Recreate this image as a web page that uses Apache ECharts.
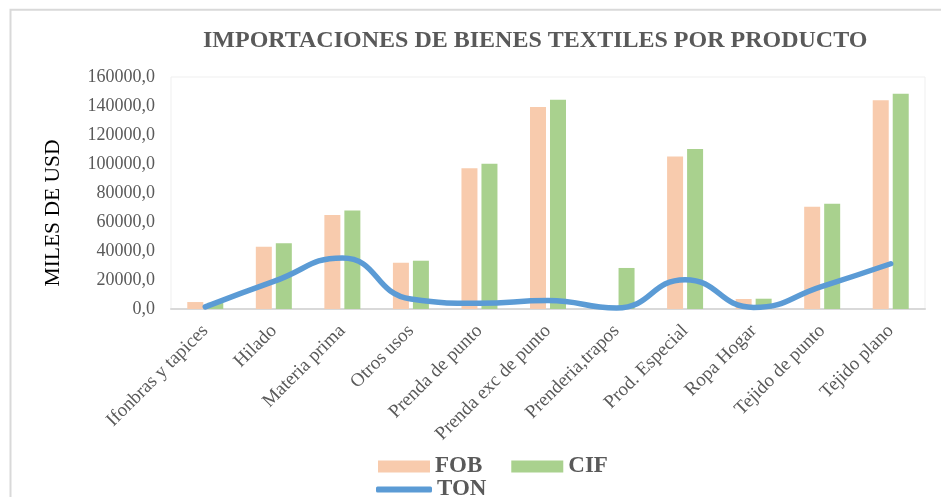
<!DOCTYPE html>
<html>
<head>
<meta charset="utf-8">
<script src="https://cdn.jsdelivr.net/npm/echarts@6/dist/echarts.min.js"></script>
<style>
  html, body { margin: 0; padding: 0; background: #fff; }
  #chart { width: 941px; height: 497px; }
</style>
</head>
<body>
<div id="chart"></div>
<script>
// categorias y valores
const categorias = ['Ifonbras y tapices', 'Hilado', 'Materia prima', 'Otros usos', 'Prenda de punto',
  'Prenda exc de punto', 'Prenderia,trapos', 'Prod. Especial', 'Ropa Hogar', 'Tejido de punto', 'Tejido plano'];
const fob = [4800, 43000, 64800, 31900, 97000, 139300, 0, 105200, 6900, 70500, 143900];
const cif = [4300, 45300, 68000, 33300, 100200, 144300, 28300, 110300, 7100, 72600, 148500];
const ton = [1500, 19000, 35200, 6900, 3900, 5900, 700, 20200, 1100, 15600, 31200];
const ticksY = [0, 20000, 40000, 60000, 80000, 100000, 120000, 140000, 160000];

const fuente = '"Liberation Serif", "Times New Roman", serif';
const gris = '#595959';

const chart = echarts.init(document.getElementById('chart'));

const option = {
  animation: false,
  backgroundColor: '#fff',
  title: {
    text: 'IMPORTACIONES DE BIENES TEXTILES POR PRODUCTO',
    left: 198,
    top: 24,
    textStyle: { fontFamily: fuente, fontSize: 24, fontWeight: 'bold', color: gris }
  },
  graphic: [
    {
      // marco exterior del grafico
      type: 'rect',
      shape: { x: 10.5, y: 9.8, width: 1000, height: 1000 },
      style: { fill: 'none', stroke: '#d9d9d9', lineWidth: 2 },
      silent: true
    },
    {
      // titulo del eje vertical
      type: 'text',
      x: 53,
      y: 213,
      rotation: Math.PI / 2,
      style: {
        text: 'MILES DE USD',
        fontFamily: fuente,
        fontSize: 21.5,
        fill: '#000',
        textAlign: 'center',
        textVerticalAlign: 'middle'
      },
      silent: true
    }
  ],
  legend: [
    {
      data: ['FOB', 'CIF'],
      left: 373,
      top: 450,
      itemWidth: 52,
      itemHeight: 12,
      itemGap: 29,
      icon: 'rect',
      textStyle: { fontFamily: fuente, fontSize: 23, fontWeight: 'bold', color: gris }
    },
    {
      data: [{ name: 'TON', icon: 'roundRect' }],
      left: 371,
      top: 473,
      itemWidth: 56,
      itemHeight: 6,
      textStyle: { fontFamily: fuente, fontSize: 23, fontWeight: 'bold', color: gris }
    }
  ],
  grid: {
    left: 171,
    right: 16,
    top: 77,
    bottom: 188,
    show: true,
    borderColor: '#efefef',
    borderWidth: 1
  },
  xAxis: {
    type: 'category',
    data: categorias,
    axisTick: { show: false },
    axisLine: { lineStyle: { color: '#d9d9d9', width: 2 } },
    axisLabel: {
      interval: 0,
      rotate: 45,
      margin: 19,
      fontFamily: fuente,
      fontSize: 19,
      color: gris
    }
  },
  yAxis: {
    type: 'value',
    min: ticksY[0],
    max: ticksY[ticksY.length - 1],
    interval: 20000,
    splitLine: { show: false },
    axisLine: { show: false },
    axisTick: { show: false },
    axisLabel: {
      margin: 16,
      fontFamily: fuente,
      fontSize: 18,
      color: gris,
      formatter: v => v.toFixed(1).replace('.', ',')
    }
  },
  series: [
    {
      name: 'FOB',
      type: 'bar',
      data: fob,
      barWidth: 16,
      barGap: '25%',
      itemStyle: { color: '#f8cbad' }
    },
    {
      name: 'CIF',
      type: 'bar',
      data: cif,
      barWidth: 16,
      itemStyle: { color: '#a9d18e' }
    },
    {
      name: 'TON',
      type: 'line',
      data: ton,
      smooth: 0.5,
      symbol: 'none',
      itemStyle: { color: '#5b9bd5', borderRadius: 3 },
      lineStyle: { color: '#5b9bd5', width: 5.5, cap: 'round', join: 'round' }
    }
  ]
};

chart.setOption(option);
</script>
</body>
</html>
